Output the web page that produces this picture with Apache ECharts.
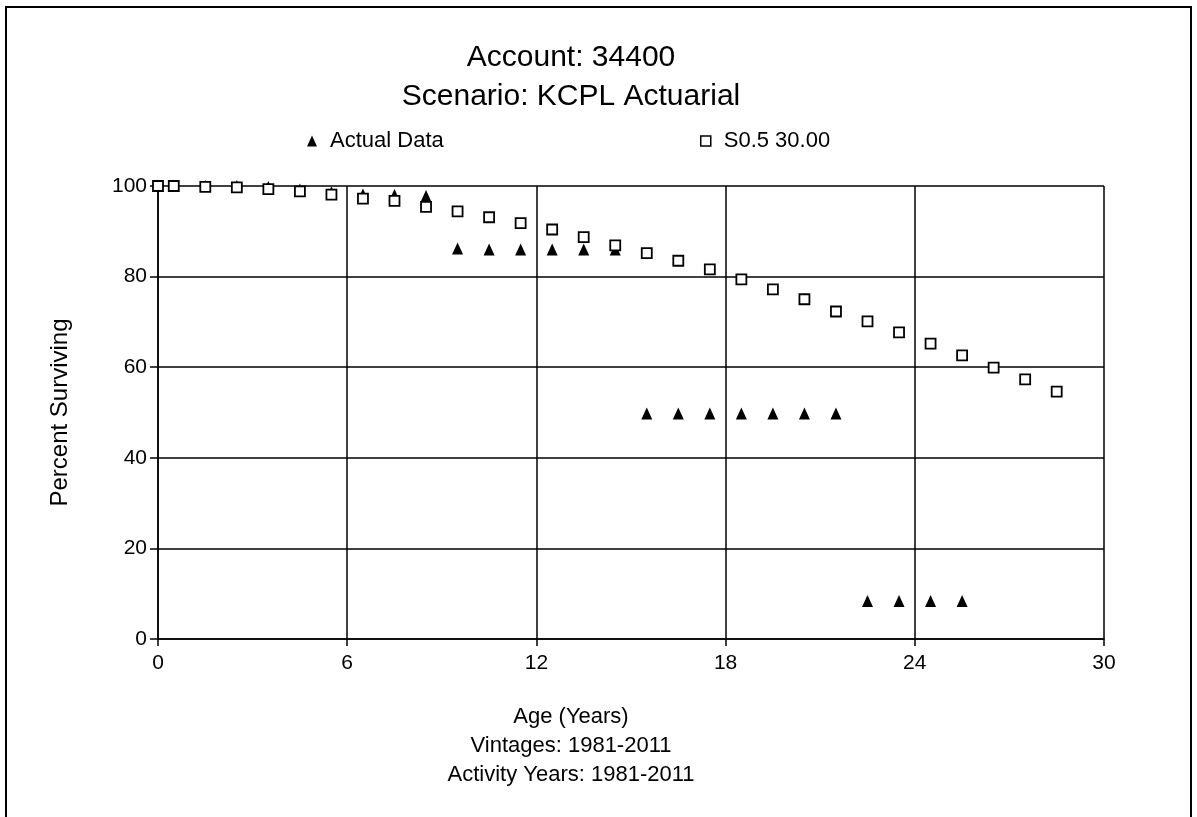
<!DOCTYPE html>
<html>
<head>
<meta charset="utf-8">
<script src="https://cdn.jsdelivr.net/npm/echarts@6/dist/echarts.min.js"></script>
<style>
  html, body { margin: 0; padding: 0; background: #fff; }
  #chart { width: 1197px; height: 817px; }
</style>
</head>
<body>
<div id="chart"></div>
<script>
// Survivor curve for account 34400: observed retirement data vs. fitted Iowa S0.5-30 curve
const titleLines = ['Account: 34400', 'Scenario: KCPL Actuarial'];
const xAxisLines = ['Age (Years)', 'Vintages: 1981-2011', 'Activity Years: 1981-2011'];
const yAxisName = 'Percent Surviving';
const seriesNames = ['Actual Data', 'S0.5 30.00'];

// Ages at which points are plotted (years)
const ages = [0, 0.5, 1.5, 2.5, 3.5, 4.5, 5.5, 6.5, 7.5, 8.5,
              9.5, 10.5, 11.5, 12.5, 13.5, 14.5, 15.5, 16.5, 17.5, 18.5,
              19.5, 20.5, 21.5, 22.5, 23.5, 24.5, 25.5, 26.5, 27.5, 28.5];

// Observed percent surviving (first 27 ages)
const actualData = [100, 100, 100, 100, 99.8, 99.2, 98.6, 98.1, 98.0, 97.8,
                    86.2, 86.0, 86.0, 86.0, 86.0, 86.0,
                    49.8, 49.8, 49.8, 49.8, 49.8, 49.8, 49.8,
                    8.4, 8.4, 8.4, 8.4];

// Fitted S0.5 curve, 30-year average life
const curveData = [100, 100, 99.8, 99.7, 99.3, 98.8, 98.1, 97.2, 96.7, 95.4,
                   94.4, 93.1, 91.8, 90.4, 88.7, 86.9, 85.2, 83.5, 81.6, 79.4,
                   77.2, 75.0, 72.3, 70.1, 67.7, 65.2, 62.6, 59.9, 57.3, 54.6];

const xTicks = { min: 0, max: 30, interval: 6 };
const yTicks = { min: 0, max: 100, interval: 20 };

const FONT = '"Liberation Sans", Arial, sans-serif';
const chart = echarts.init(document.getElementById('chart'), null, { renderer: 'canvas' });

const pair = (vals) => vals.map((v, i) => [ages[i], v]);
const legendText = { fontFamily: FONT, fontSize: 22, color: '#000', padding: [0, 0, 0, 8] };

chart.setOption({
  backgroundColor: '#fff',
  animation: false,
  title: {
    text: titleLines.join('\n'),
    left: 566,
    top: 33,
    textAlign: 'center',
    textStyle: { fontFamily: FONT, fontSize: 30, fontWeight: 'normal', color: '#000', lineHeight: 39 }
  },
  legend: [
    {
      data: [{ name: seriesNames[0], icon: 'triangle' }],
      left: 302, top: 125, itemWidth: 10, itemHeight: 11,
      textStyle: legendText
    },
    {
      data: [{ name: seriesNames[1], icon: 'rect', itemStyle: { color: '#fff', borderColor: '#000', borderWidth: 1.5 } }],
      left: 695, top: 125, itemWidth: 10, itemHeight: 10,
      textStyle: legendText
    }
  ],
  grid: { left: 158, right: 93, top: 186, bottom: 178, containLabel: false },
  xAxis: {
    type: 'value',
    min: xTicks.min, max: xTicks.max, interval: xTicks.interval,
    axisLine: { show: true, lineStyle: { color: '#000', width: 1.5 } },
    axisTick: { show: true, length: 7, lineStyle: { color: '#000', width: 1.5 } },
    axisLabel: { color: '#000', fontFamily: FONT, fontSize: 21, margin: 14 },
    splitLine: { show: true, lineStyle: { color: '#000', width: 1.5 } }
  },
  yAxis: {
    type: 'value',
    min: yTicks.min, max: yTicks.max, interval: yTicks.interval,
    name: yAxisName,
    nameLocation: 'middle',
    nameGap: 86,
    nameTextStyle: { fontFamily: FONT, fontSize: 24, color: '#000' },
    axisLine: { show: true, lineStyle: { color: '#000', width: 1.5 } },
    axisTick: { show: true, length: 8, lineStyle: { color: '#000', width: 1.5 } },
    axisLabel: { color: '#000', fontFamily: FONT, fontSize: 21, margin: 11 },
    splitLine: { show: true, lineStyle: { color: '#000', width: 1.5 } }
  },
  series: [
    {
      name: seriesNames[0],
      type: 'scatter',
      symbol: 'triangle',
      symbolSize: [11, 12],
      itemStyle: { color: '#000', opacity: 1 },
      data: pair(actualData),
      z: 2
    },
    {
      name: seriesNames[1],
      type: 'scatter',
      symbol: 'rect',
      symbolSize: 10,
      itemStyle: { color: '#fff', borderColor: '#000', borderWidth: 1.8, opacity: 1 },
      data: pair(curveData),
      z: 3
    }
  ],
  graphic: [
    {
      type: 'rect',
      shape: { x: 6, y: 7, width: 1185, height: 830 },
      style: { fill: 'none', stroke: '#000', lineWidth: 2 },
      silent: true
    },
    ...xAxisLines.map((t, i) => ({
      type: 'text',
      style: {
        text: t, x: 571, y: 717 + i * 29,
        textAlign: 'center', textVerticalAlign: 'middle',
        fontFamily: FONT, fontSize: 22, fill: '#000'
      }
    }))
  ]
});
</script>
</body>
</html>
